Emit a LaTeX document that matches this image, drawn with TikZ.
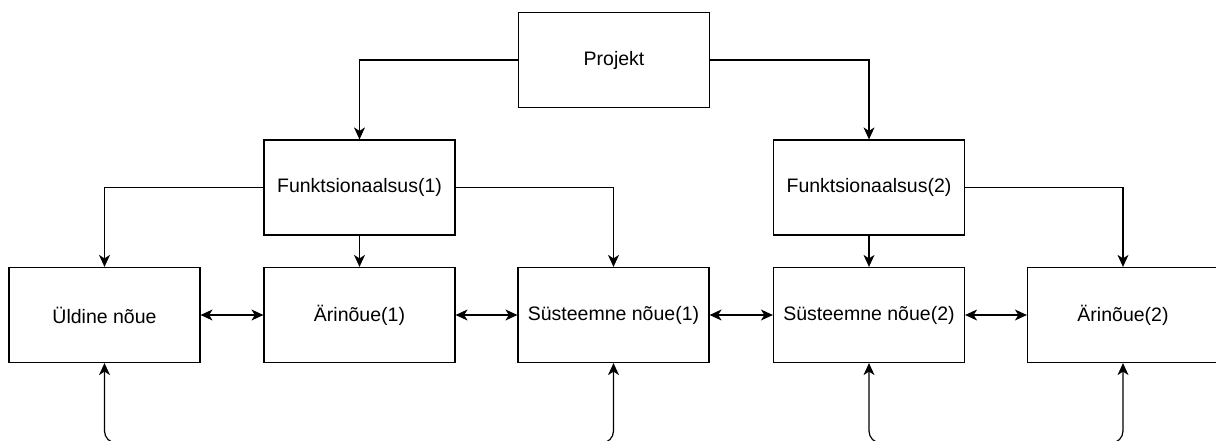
\documentclass[tikz,border=0pt]{standalone}
\usepackage{fontspec}
\setmainfont{Liberation Sans}
\usetikzlibrary{arrows.meta}

\tikzset{
    box/.style={draw, line width=1.2pt, minimum width=191pt, minimum height=95pt,
        inner sep=0pt, font=\fontsize{19.5}{23}\selectfont},
    link/.style={line width=1.2pt, -{Stealth[length=12pt, width=11pt, inset=3.5pt]}},
    both/.style={line width=1.2pt, {Stealth[length=12pt, width=11pt, inset=3.5pt]}-{Stealth[length=12pt, width=11pt, inset=3.5pt]}}
}

\begin{document}
\begin{tikzpicture}[x=1pt, y=-1pt]
    % Frame
    \useasboundingbox (0,0) rectangle (1216,441);
    \clip (0,0) rectangle (1216,441);

    % Top
    \node[box] (proj) at (614,60) {Projekt};

    % Middle row
    \node[box] (fun1) at (359.5,187.5) {Funktsionaalsus(1)};
    \node[box] (fun2) at (869,187.5) {Funktsionaalsus(2)};

    % Bottom row
    \node[box] (yld)  at (104.5,315) {Üldine nõue};
    \node[box] (ari1) at (359.5,315) {Ärinõue(1)};
    \node[box] (sys1) at (613.5,315) {Süsteemne nõue(1)};
    \node[box] (sys2) at (869,315)   {Süsteemne nõue(2)};
    \node[box] (ari2) at (1123,315)  {Ärinõue(2)};

    % Project to functionality
    \draw[link] (proj.west) -| (fun1.north);
    \draw[link] (proj.east) -| (fun2.north);

    % Functionality to requirements
    \draw[link] (fun1.west) -| (yld.north);
    \draw[link] (fun1.south) -- (ari1.north);
    \draw[link] (fun1.east) -| (sys1.north);
    \draw[link] (fun2.south) -- (sys2.north);
    \draw[link] (fun2.east) -| (ari2.north);

    % Between requirements
    \draw[both] (yld.east) -- (ari1.west);
    \draw[both] (ari1.east) -- (sys1.west);
    \draw[both] (sys1.east) -- (sys2.west);
    \draw[both] (sys2.east) -- (ari2.west);

    % Lower loops
    \coordinate (low1) at (359,443);
    \coordinate (low2) at (996,443);
    \draw[both, rounded corners=12pt] (yld.south) |- (low1) -| (sys1.south);
    \draw[both, rounded corners=12pt] (sys2.south) |- (low2) -| (ari2.south);
\end{tikzpicture}
\end{document}
